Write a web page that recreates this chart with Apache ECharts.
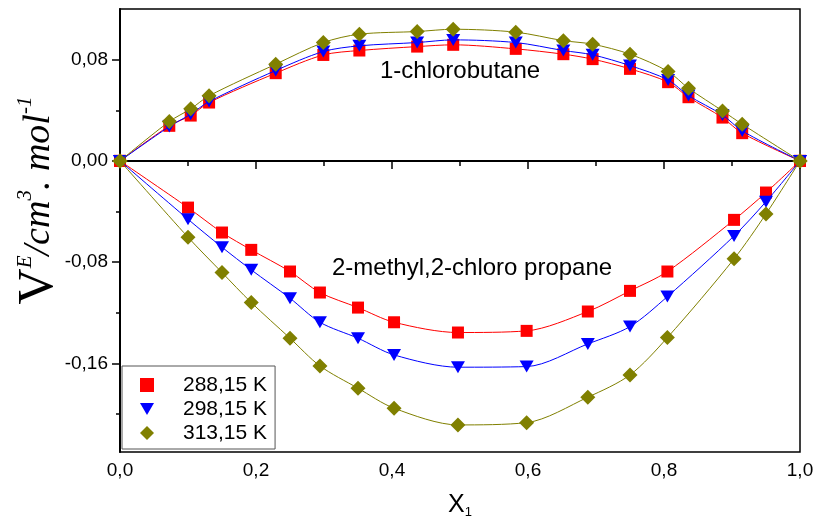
<!DOCTYPE html>
<html>
<head>
<meta charset="utf-8">
<script src="https://cdn.jsdelivr.net/npm/echarts@6/dist/echarts.min.js"></script>
<style>html,body{margin:0;padding:0;background:#fff}#c{width:816px;height:526px}</style>
</head>
<body>
<div id="c"></div>
<script>
// 1-chlorobutane
var xUpper = [0, 0.0725, 0.104, 0.131, 0.229, 0.299, 0.352, 0.437, 0.49, 0.582, 0.652, 0.695, 0.75, 0.806, 0.836, 0.886, 0.915, 1.0];
var upper288 = [0, 0.0277, 0.0358, 0.0461, 0.0693, 0.0837, 0.0872, 0.0903, 0.0917, 0.0885, 0.0843, 0.0804, 0.0727, 0.0622, 0.0503, 0.0342, 0.0219, 0];
var upper298 = [0, 0.0271, 0.0369, 0.0469, 0.0714, 0.0864, 0.0909, 0.0935, 0.0956, 0.0935, 0.0872, 0.0838, 0.0753, 0.0640, 0.0516, 0.0363, 0.0237, 0];
var upper313 = [0, 0.0311, 0.0411, 0.0514, 0.0764, 0.0935, 0.1001, 0.1022, 0.1040, 0.1017, 0.0950, 0.0922, 0.0843, 0.0706, 0.0574, 0.0395, 0.0290, 0];
// 2-methyl,2-chloro propane
var xLower = [0, 0.1, 0.15, 0.193, 0.25, 0.294, 0.35, 0.403, 0.497, 0.598, 0.688, 0.75, 0.805, 0.903, 0.95, 1.0];
var lower288 = [0, -0.0369, -0.0566, -0.0703, -0.0874, -0.1040, -0.1159, -0.1275, -0.1356, -0.1343, -0.1190, -0.1027, -0.0874, -0.0466, -0.0250, 0];
var lower298 = [0, -0.0461, -0.0682, -0.0861, -0.1085, -0.1275, -0.1401, -0.1533, -0.1630, -0.1625, -0.1446, -0.1309, -0.1072, -0.0593, -0.0322, 0];
var lower313 = [0, -0.0603, -0.0882, -0.1119, -0.1401, -0.1620, -0.1796, -0.1954, -0.2086, -0.2068, -0.1867, -0.1691, -0.1396, -0.0774, -0.0419, 0];

var seriesNames = ['288,15 K', '298,15 K', '313,15 K'];
var yMajorTicks = [-0.16, -0.08, 0, 0.08];
var yMinorTicks = [-0.20, -0.12, -0.04, 0.04];
var labelUpper = '1-chlorobutane';
var labelLower = '2-methyl,2-chloro propane';

var colors = ['#FF0000', '#0000FF', '#808000'];
var symbols = ['rect', 'triangle', 'diamond'];
var symSizes = [12, [14, 12], 15];
var symRot = [0, 180, 0];
var FONT = '"Liberation Sans", Arial, sans-serif';
var SERIF = '"Liberation Serif", "Times New Roman", serif';

function pairs(xs, ys) { return xs.map(function (x, i) { return [x, ys[i]]; }); }

var upperSets = [upper288, upper298, upper313];
var lowerSets = [lower288, lower298, lower313];
var series = [];
[0, 1, 2].forEach(function (k) {
  [[xUpper, upperSets[k]], [xLower, lowerSets[k]]].forEach(function (set) {
    series.push({
      name: seriesNames[k], type: 'line', smooth: 0.3,
      data: pairs(set[0], set[1]),
      symbol: symbols[k], symbolSize: symSizes[k], symbolRotate: symRot[k],
      showAllSymbol: true,
      itemStyle: { color: colors[k] },
      lineStyle: { color: colors[k], width: 1 },
      z: 3 + k
    });
  });
});
series[0].markLine = {
  silent: true, symbol: 'none', label: { show: false },
  lineStyle: { color: '#000', width: 1.5, type: 'solid' },
  data: [{ yAxis: 0 }], z: 1
};

var chart = echarts.init(document.getElementById('c'), null, { renderer: 'canvas' });
chart.setOption({
  animation: false,
  backgroundColor: '#fff',
  grid: { left: 120, right: 16, top: 9, bottom: 74, outerBoundsMode: 'none', containLabel: false, show: true, borderColor: '#000', borderWidth: 1.5, backgroundColor: 'transparent' },
  legend: {
    left: 122, top: 366, orient: 'vertical',
    padding: [8, 8, 5, 18], itemGap: 2, itemWidth: 14, itemHeight: 14,
    borderColor: '#555', borderWidth: 1, backgroundColor: '#fff',
    textStyle: { fontFamily: FONT, fontSize: 21, color: '#000', lineHeight: 22, padding: [0, 0, 0, 24] },
    data: [
      { name: seriesNames[0], icon: 'rect' },
      { name: seriesNames[1], icon: 'path://M0,0L14,0L7,12Z' },
      { name: seriesNames[2], icon: 'diamond' }
    ]
  },
  xAxis: {
    type: 'value', min: 0, max: 1, interval: 0.2,
    name: '{x|X}{s|1}', nameLocation: 'middle', nameGap: 40, nameMoveOverlap: false,
    nameTextStyle: { rich: { x: { fontFamily: FONT, fontSize: 25, color: '#000' }, s: { fontFamily: FONT, fontSize: 13, color: '#000', verticalAlign: 'bottom', padding: [14, 0, 0, 0] } } },
    axisLine: { lineStyle: { color: '#000', width: 2 } },
    axisTick: { inside: false, length: 8, lineStyle: { color: '#000', width: 1.5 } },
    minorTick: { show: true, splitNumber: 2, length: 5, lineStyle: { color: '#000', width: 1.5 } },
    splitLine: { show: false },
    axisLabel: { fontFamily: FONT, fontSize: 19, color: '#000', margin: 9, formatter: function (v) { return v.toFixed(1).replace('.', ','); } }
  },
  yAxis: [{
    type: 'value', min: -0.23, max: 0.12,
    name: '{v|V}{sup|E}{it|/cm}{sup|3}{it|. mol}{sup|-1}',
    nameLocation: 'middle', nameGap: 56, nameRotate: 90, nameMoveOverlap: false,
    nameTextStyle: {
      padding: [0, 0, 0, 60],
      rich: {
        v: { fontFamily: SERIF, fontSize: 50, color: '#000' },
        it: { fontFamily: SERIF, fontSize: 38, fontStyle: 'italic', color: '#000' },
        sup: { fontFamily: SERIF, fontSize: 21, fontStyle: 'italic', color: '#000', padding: [0, 0, 28, 0] }
      }
    },
    axisLine: { show: true, lineStyle: { color: '#000', width: 2 } },
    axisTick: { show: true, length: 8, customValues: yMajorTicks, lineStyle: { color: '#000', width: 1.5 } },
    splitLine: { show: false },
    axisLabel: { fontFamily: FONT, fontSize: 19, color: '#000', margin: 12, customValues: yMajorTicks, formatter: function (v) { return v.toFixed(2).replace('.', ','); } }
  }, {
    type: 'value', min: -0.23, max: 0.12, position: 'left', offset: 0,
    axisLine: { show: false },
    axisTick: { show: true, length: 4, customValues: yMinorTicks, lineStyle: { color: '#000', width: 1.5 } },
    axisLabel: { show: false },
    splitLine: { show: false }
  }],
  graphic: [
    { type: 'text', left: 380, top: 59, style: { text: labelUpper, font: '24px ' + FONT, fill: '#000' } },
    { type: 'text', left: 332, top: 256, style: { text: labelLower, font: '24px ' + FONT, fill: '#000' } }
  ],
  series: series
});
</script>
</body>
</html>
